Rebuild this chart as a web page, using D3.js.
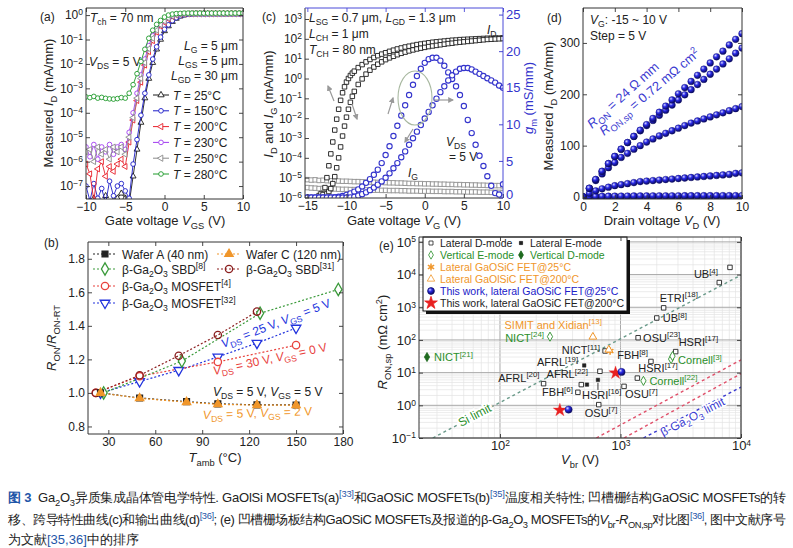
<!DOCTYPE html>
<html>
<head>
<meta charset="utf-8">
<script src="https://cdn.jsdelivr.net/npm/d3@7"></script>
<style>
body { margin: 0; background: #fff; }
svg { display: block; }
text { font-family: "Liberation Sans", Arial, sans-serif; }
</style>
</head>
<body>
<div id="fig"></div>
<script>
// ---------------- panel (a): transfer curves, log10 I_D (mA/mm) vs V_GS ----------------
var a_vgs = [-10,-9.5,-9,-8.5,-8,-7.5,-7,-6.5,-6,-5.5,-5,-4.5,-4,-3.5,-3,-2.5,-2,-1.5,-1,-0.5,0,0.5,1,1.5,2,2.5,3,3.5,4,4.5,5,5.5,6,6.5,7,7.5,8,8.5,9,9.5,10];
var a_T25  = [-7.6,-7.9,-7.5,-7.8,-7.7,-7.4,-7.9,-7.6,-7.5,-7.3,-7.5,-7.7,-6.6,-5.5,-4.4,-3.4,-2.6,-1.95,-1.4,-1.0,-0.65,-0.45,-0.27,-0.14,-0.05,0.0,0.03,0.04,0.05,0.05,0.05,0.05,0.05,0.05,0.05,0.05,0.05,0.05,0.05,0.05,0.05];
var a_T150 = [-7.0,-7.6,-6.9,-7.5,-7.1,-7.7,-6.8,-7.4,-7.0,-6.9,-7.2,-7.5,-6.1,-5.1,-4.1,-3.2,-2.45,-1.8,-1.3,-0.9,-0.58,-0.4,-0.23,-0.11,-0.03,0.01,0.03,0.04,0.05,0.05,0.05,0.05,0.05,0.05,0.05,0.05,0.05,0.05,0.05,0.05,0.05];
var a_T200 = [-6.1,-6.5,-7.6,-6.3,-6.0,-6.6,-6.2,-6.4,-6.1,-5.9,-6.2,-5.2,-4.3,-3.5,-2.75,-2.05,-1.5,-1.05,-0.7,-0.45,-0.3,-0.16,-0.06,0.0,0.03,0.04,0.05,0.05,0.05,0.05,0.05,0.05,0.05,0.05,0.05,0.05,0.05,0.05,0.05,0.05,0.05];
var a_T230 = [-5.4,-5.8,-5.3,-5.9,-5.4,-5.6,-5.3,-5.7,-5.4,-5.3,-5.5,-4.8,-4.0,-3.2,-2.45,-1.8,-1.25,-0.85,-0.55,-0.36,-0.22,-0.1,-0.02,0.02,0.04,0.05,0.05,0.05,0.05,0.05,0.05,0.05,0.05,0.05,0.05,0.05,0.05,0.05,0.05,0.05,0.05];
var a_T250 = [-5.6,-5.5,-6.0,-5.4,-5.7,-5.5,-5.9,-5.4,-5.6,-5.4,-5.7,-5.0,-4.2,-3.4,-2.6,-1.95,-1.38,-0.95,-0.62,-0.4,-0.25,-0.12,-0.04,0.01,0.03,0.04,0.05,0.05,0.05,0.05,0.05,0.05,0.05,0.05,0.05,0.05,0.05,0.05,0.05,0.05,0.05];
var a_T280 = [-3.35,-3.38,-3.33,-3.4,-3.37,-3.41,-3.43,-3.44,-3.42,-3.38,-3.4,-3.2,-2.85,-2.4,-1.9,-1.4,-0.95,-0.62,-0.38,-0.22,-0.08,0.0,0.04,0.06,0.07,0.08,0.08,0.08,0.08,0.08,0.08,0.08,0.08,0.08,0.08,0.08,0.08,0.08,0.08,0.08,0.08];
var a_temps = ['25', '150', '200', '230', '250', '280'];
var a_yticks = [1e-7, 1e-6, 1e-5, 1e-4, 1e-3, 1e-2, 1e-1, 1];
var a_xticks = [-10, -5, 0, 5, 10];

// ---------------- panel (c): I_D, I_G (log10 mA/mm) and g_m (mS/mm) vs V_G ----------------
var c_idUp_v = [-13.5,-13.25,-13,-12.75,-12.5,-12.25,-12,-11.75,-11.5,-11.25,-11,-10.75,-10.5,-10.25,-10,-9.75,-9.5,-9.25,-9,-8.5,-8,-7.5,-7,-6.5,-6,-5.5,-5,-4.5,-4,-3.5,-3,-2.5,-2,-1.5,-1,-0.5,0,0.5,1,1.5,2,2.5,3,3.5,4,4.5,5,5.5,6,6.5,7,7.5,8,8.5,9,9.5,10];
var c_idUp   = [-5.9,-5.8,-5.85,-5.5,-5.0,-4.4,-3.8,-3.2,-2.6,-2.05,-1.55,-1.1,-0.72,-0.42,-0.18,0.0,0.15,0.27,0.37,0.55,0.7,0.84,0.96,1.06,1.15,1.23,1.3,1.37,1.43,1.49,1.54,1.59,1.63,1.67,1.71,1.74,1.77,1.8,1.83,1.85,1.87,1.89,1.91,1.93,1.94,1.96,1.97,1.98,1.99,2.0,2.01,2.02,2.03,2.03,2.04,2.04,2.05];
var c_idDown_v = [-12.5,-12.25,-12,-11.75,-11.5,-11.25,-11,-10.75,-10.5,-10.25,-10,-9.75,-9.5,-9.25,-9,-8.5,-8,-7.5,-7,-6.5,-6,-5.5,-5,-4.5,-4,-3.5,-3,-2.5,-2,-1.5,-1,-0.5,0,0.5,1,1.5,2,2.5,3,3.5,4,4.5,5,5.5,6,6.5,7,7.5,8,8.5,9,9.5,10];
var c_idDown = [-5.8,-5.7,-5.55,-5.3,-4.95,-4.5,-4.0,-3.45,-2.9,-2.4,-1.95,-1.55,-1.2,-0.9,-0.65,-0.3,-0.02,0.22,0.42,0.58,0.72,0.84,0.95,1.04,1.12,1.2,1.27,1.33,1.39,1.44,1.49,1.53,1.57,1.61,1.64,1.67,1.7,1.73,1.76,1.78,1.81,1.83,1.85,1.87,1.89,1.91,1.93,1.95,1.97,1.98,1.99,2.0,2.01];
var c_vg = [-15,-14.5,-14,-13.5,-13,-12.5,-12,-11.5,-11,-10.5,-10,-9.5,-9,-8.5,-8,-7.5,-7,-6.5,-6,-5.5,-5,-4.5,-4,-3.5,-3,-2.5,-2,-1.5,-1,-0.5,0,0.5,1,1.5,2,2.5,3,3.5,4,4.5,5,5.5,6,6.5,7,7.5,8,8.5,9,9.5,10];
var c_igUp   = [-5.10,-5.12,-5.11,-5.14,-5.13,-5.15,-5.16,-5.15,-5.17,-5.18,-5.18,-5.19,-5.2,-5.2,-5.21,-5.22,-5.22,-5.23,-5.24,-5.24,-5.25,-5.26,-5.26,-5.27,-5.27,-5.28,-5.29,-5.29,-5.3,-5.3,-5.31,-5.31,-5.32,-5.32,-5.33,-5.33,-5.34,-5.34,-5.35,-5.35,-5.36,-5.36,-5.37,-5.37,-5.38,-5.38,-5.39,-5.39,-5.4,-5.4,-5.41];
var c_igDown = [-5.5,-5.52,-5.53,-5.55,-5.54,-5.56,-5.57,-5.57,-5.58,-5.59,-5.59,-5.6,-5.6,-5.61,-5.61,-5.62,-5.62,-5.63,-5.63,-5.64,-5.64,-5.65,-5.65,-5.65,-5.66,-5.66,-5.67,-5.67,-5.67,-5.68,-5.68,-5.68,-5.69,-5.69,-5.69,-5.7,-5.7,-5.7,-5.71,-5.71,-5.71,-5.72,-5.72,-5.72,-5.73,-5.73,-5.73,-5.74,-5.74,-5.74,-5.75];
var c_gmUp   = [0,0,0,0,0,0,0.02,0.05,0.1,0.2,0.35,0.55,0.8,1.1,1.5,2.0,2.5,3.1,3.8,4.7,5.8,7.0,8.4,9.8,11.2,12.6,14.0,15.4,16.6,17.6,18.4,18.9,19.1,19.1,18.7,18.0,17.1,16.2,15.2,14.0,12.5,10.6,8.8,7.2,5.7,4.3,2.9,1.6,0.6,0.4,1.8];
var c_gmDown = [0,0,0,0,0,0,0,0,0,0,0,0.02,0.1,0.25,0.45,0.7,1.0,1.35,1.75,2.2,2.7,3.3,4.0,4.7,5.5,6.3,7.2,8.1,9.0,9.9,10.8,11.7,12.6,13.5,14.4,15.2,16.0,16.7,17.2,17.6,17.7,17.7,17.5,17.2,16.9,16.6,16.3,16.0,15.7,15.3,15.0];
var c_yticks = [1e-6,1e-5,1e-4,1e-3,1e-2,1e-1,1,1e1,1e2,1e3];
var c_xticks = [-15, -10, -5, 0, 5, 10];
var c_gmticks = [0, 5, 10, 15, 20, 25];

// ---------------- panel (d): output curves I_D (mA/mm) vs V_D ----------------
var d_vd = [0,0.4,0.8,1.2,1.6,2.0,2.4,2.8,3.2,3.6,4.0,4.4,4.8,5.2,5.6,6.0,6.4,6.8,7.2,7.6,8.0,8.4,8.8,9.2,9.6,10];
var d_vg10  = [0,17,34,50,65,79,93,106,118,130,141,153,165,177,189,201,213,225,237,249,261,273,284,296,307,318];
var d_vg5   = [0,17,34,50,65,79,93,106,118,129,139,149,159,169,179,189,199,209,219,229,239,249,259,269,280,290];
var d_vg0   = [0,17,32,45,57,67,77,85,93,100,107,113,119,124,129,134,139,144,148,152,156,160,164,168,172,176];
var d_vgm5  = [0,7,12,16,19,22,24,26,28,30,31,32,33,34,35,36,37,38,39,40,41,42,43,44,46,47];
var d_vgm10 = [0,0.6,1.0,1.3,1.5,1.7,1.8,1.9,2.0,2.1,2.2,2.2,2.3,2.3,2.4,2.4,2.5,2.5,2.5,2.6,2.6,2.6,2.7,2.7,2.7,2.8];
var d_vgm15 = [0,0.1,0.1,0.1,0.2,0.2,0.2,0.2,0.2,0.2,0.2,0.3,0.3,0.3,0.3,0.3,0.3,0.3,0.3,0.3,0.3,0.3,0.3,0.3,0.3,0.3];
var d_xticks = [0, 2, 4, 6, 8, 10];
var d_yticks = [0, 100, 200, 300];

// ---------------- panel (b): R_ON / R_ON-RT vs T_amb ----------------
var b_waferA_t = [25, 50, 80, 100, 125, 150];
var b_waferA   = [1.0, 0.97, 0.948, 0.935, 0.929, 0.928];
var b_waferC_t = [25, 50, 80, 100, 125, 150];
var b_waferC   = [1.0, 0.968, 0.945, 0.932, 0.927, 0.927];
var b_sbd8_t   = [27, 77, 127, 177];
var b_sbd8     = [1.0, 1.19, 1.475, 1.617];
var b_sbd31_t  = [22, 50, 75, 100, 125];
var b_sbd31    = [1.0, 1.105, 1.222, 1.345, 1.485];
var b_mos4_t   = [22, 50, 100, 150];
var b_mos4     = [1.0, 1.1, 1.185, 1.285];
var b_mos32_t  = [25, 50, 75, 100, 125, 150];
var b_mos32    = [1.0, 1.068, 1.135, 1.215, 1.297, 1.387];
var b_xticks = [30, 60, 90, 120, 150, 180];
var b_yticks = [0.8, 1.0, 1.2, 1.4, 1.6, 1.8];

// ---------------- panel (e): R_ON,sp (mOhm cm2) vs V_br (V) ----------------
var e_latD_name = ['UB[4]', '', 'ETRI[18]', 'UB[8]', 'OSU[23]', 'HSRI[17]', 'FBH[8]', 'HSRI[17]', 'OSU[7]', 'OSU[7]', 'NICT[11]', 'AFRL[22]', 'AFRL[20]', 'FBH[6]', ''];
var e_latD_vbr  = [8100, 6600, 2280, 2000, 1400, 2870, 1790, 1380, 1070, 660, 745, 675, 230, 443, 473];
var e_latD_ron  = [16600, 5700, 960, 470, 117, 44, 22, 6.8, 3.8, 1.05, 46, 11, 4.6, 2.5, 4.3];
var e_latE_name = ['AFRL[19]', 'HSRI[16]', ''];
var e_latE_vbr  = [500, 650, 527];
var e_latE_ron  = [16.6, 6.0, 4.3];
var e_vertE_name = ['Cornell[3]', '', 'Cornell[22]', 'NICT[24]'];
var e_vertE_vbr  = [2630, 2700, 1550, 260];
var e_vertE_ron  = [26, 32, 5.6, 126];
var e_vertD_name = ['NICT[21]'];
var e_vertD_vbr  = [24.8];
var e_vertD_ron  = [30];
var e_sic25_vbr  = [820];
var e_sic25_ron  = [46];
var e_sic200_name = ['SIMIT and Xidian[13]', ''];
var e_sic200_vbr  = [590, 800];
var e_sic200_ron  = [124, 50];
var e_work25_vbr  = [1020, 371];
var e_work25_ron  = [10.5, 0.74];
var e_work200_vbr = [910, 314];
var e_work200_ron = [9.8, 0.71];
// limit lines: [V_br, R_on,sp] end points
var e_siLimit  = [[27.7, 0.1], [10000, 9660]];
var e_sicLim1  = [[630, 0.1], [10000, 24.6]];
var e_sicLim2  = [[1070, 0.1], [10000, 9.3]];
var e_gaLimit  = [[1550, 0.1], [10000, 3.6]];
var e_xticks = [100, 1000, 10000];
var e_yticks = [0.1, 1, 10, 100, 1000, 1e4, 1e5];

// label placement in (e): [dx, dy, anchor] in pixels from the point
var e_latD_lab  = [[-12,11,'end'], null, [-4,-6,'start'], [6,4,'start'], [5,4,'start'], [3,-6,'start'], [-3,-2,'end'], [1,-6,'start'], [1,12,'start'], [-14,12,'start'], [-5,3,'end'], [-12,7,'end'], [-4,-2,'end'], [-5,4,'end'], null];
var e_latE_lab  = [[-6,1,'end'], [-16,19,'start'], null];
var e_vertE_lab = [[7,5,'start'], null, [6,4,'start'], [-6,5,'end']];
var e_vertD_lab = [[7,4,'start']];
var e_sic200_lab = [[9,-8,'end'], null];

// ---------------- helpers ----------------
var INK = '#222', GREEN = '#2a8f2a', ORANGE = '#f0962a';
var svg = d3.select('#fig').append('svg').attr('width', 793).attr('height', 548);
svg.append('rect').attr('width', 793).attr('height', 548).attr('fill', '#fff');
var defs = svg.append('defs');

var ball = defs.append('radialGradient').attr('id', 'ball').attr('cx', '35%').attr('cy', '32%').attr('r', '70%');
ball.append('stop').attr('offset', '0%').attr('stop-color', '#d6d6ff');
ball.append('stop').attr('offset', '40%').attr('stop-color', '#2a2ae6');
ball.append('stop').attr('offset', '100%').attr('stop-color', '#07075a');

defs.append('marker').attr('id', 'ah').attr('viewBox', '0 0 10 10').attr('refX', 8).attr('refY', 5)
  .attr('markerWidth', 5).attr('markerHeight', 5).attr('orient', 'auto')
  .append('path').attr('d', 'M0,0L10,5L0,10z').attr('fill', '#9a9a9a');

function rich(g, x, y, parts, o) {
  o = o || {};
  var fs = o.size || 12;
  var t = g.append('text').attr('x', x).attr('y', y).attr('font-size', fs)
    .attr('fill', o.color || INK).attr('text-anchor', o.anchor || 'start')
    .style('white-space', 'pre');
  if (o.family) t.attr('font-family', o.family);
  if (o.rotate) t.attr('transform', 'rotate(' + o.rotate + ',' + x + ',' + y + ')');
  var shift = 0;
  parts.forEach(function(p) {
    if (typeof p === 'string') p = [p, ''];
    var st = p[1].split(' ');
    var s = t.append('tspan').text(p[0]);
    var tgt = 0;
    if (st.indexOf('sub') >= 0) tgt = fs * 0.28;
    if (st.indexOf('sup') >= 0) tgt = -fs * 0.4;
    if (tgt !== shift) s.attr('dy', tgt - shift);
    shift = tgt;
    if (tgt !== 0) s.attr('font-size', fs * 0.72);
    if (st.indexOf('i') >= 0) s.attr('font-style', 'italic');
    if (st.indexOf('b') >= 0) s.attr('font-weight', 'bold');
    if (p[2]) s.attr('fill', p[2]);
  });
  return t;
}

function supName(s) {
  var m = s.match(/^(.*?)(\[\d+\])$/);
  return m ? [m[1], [m[2], 'sup']] : [s];
}

var symTypes = {
  circle: d3.symbolCircle, square: d3.symbolSquare, triangle: d3.symbolTriangle,
  tri_left: d3.symbolTriangle, tri_down: d3.symbolTriangle, diamond: d3.symbolDiamond,
  star: d3.symbolStar, asterisk: d3.symbolAsterisk || d3.symbolCross
};
function symRot(type) { return type === 'tri_left' ? -90 : (type === 'tri_down' ? 180 : 0); }

function marks(g, pts, type, area, stroke, fill, sw) {
  g.append('g').selectAll('path').data(pts).join('path')
    .attr('d', d3.symbol().type(symTypes[type]).size(area)())
    .attr('transform', function(d) { return 'translate(' + d[0] + ',' + d[1] + ') rotate(' + symRot(type) + ')'; })
    .attr('fill', fill || 'none').attr('stroke', stroke).attr('stroke-width', sw == null ? 0.9 : sw);
}

function styleAxis(sel, col) {
  sel.attr('font-family', null).attr('font-size', null);
  sel.select('.domain').remove();
  sel.selectAll('.tick line').attr('stroke', col || '#333').attr('stroke-width', 0.9);
  sel.selectAll('.tick text').attr('font-size', 12).attr('fill', col || INK);
}

function powTicks(sel) {
  sel.selectAll('.tick text').each(function(d) {
    var e = Math.round(Math.log10(d)), t = d3.select(this);
    t.text(null);
    t.append('tspan').text('10');
    t.append('tspan').attr('dy', '-0.5em').attr('font-size', 8.5).text(e < 0 ? '\u2212' + (-e) : String(e));
  });
}

function axes(g, xs, ys, o) {
  var xr = xs.range(), yr = ys.range(), tl = 4;
  var gb = g.append('g').attr('transform', 'translate(0,' + yr[0] + ')')
    .call(d3.axisBottom(xs).tickValues(o.xt).tickSize(-tl).tickPadding(3).tickFormat(o.xf || d3.format('d')));
  styleAxis(gb);
  var gt = g.append('g').attr('transform', 'translate(0,' + yr[1] + ')')
    .call(d3.axisTop(xs).tickValues(o.xt).tickSize(-tl).tickFormat(''));
  styleAxis(gt, o.topCol);
  var gl = g.append('g').attr('transform', 'translate(' + xr[0] + ',0)')
    .call(d3.axisLeft(ys).tickValues(o.yt).tickSize(-tl).tickPadding(3).tickFormat(o.yf || d3.format('d')));
  styleAxis(gl);
  if (!o.noRight) {
    var gr = g.append('g').attr('transform', 'translate(' + xr[1] + ',0)')
      .call(d3.axisRight(ys).tickValues(o.yt).tickSize(-tl).tickFormat(''));
    styleAxis(gr);
  }
  if (o.xlog) powTicks(gb);
  if (o.ylog) powTicks(gl);
  var c = o.topCol || '#333';
  g.append('line').attr('x1', xr[0]).attr('x2', xr[1]).attr('y1', yr[0]).attr('y2', yr[0]).attr('stroke', '#333');
  g.append('line').attr('x1', xr[0]).attr('x2', xr[0]).attr('y1', yr[0]).attr('y2', yr[1]).attr('stroke', '#333');
  g.append('line').attr('x1', xr[0]).attr('x2', xr[1]).attr('y1', yr[1]).attr('y2', yr[1]).attr('stroke', c);
  g.append('line').attr('x1', xr[1]).attr('x2', xr[1]).attr('y1', yr[0]).attr('y2', yr[1]).attr('stroke', c);
}

function clipFor(id, xs, ys) {
  var xr = xs.range(), yr = ys.range();
  defs.append('clipPath').attr('id', id).append('rect')
    .attr('x', xr[0]).attr('y', yr[1]).attr('width', xr[1] - xr[0]).attr('height', yr[0] - yr[1]);
  return 'url(#' + id + ')';
}

function zipPts(xv, yv, xs, ys, conv) {
  var out = [];
  for (var i = 0; i < Math.min(xv.length, yv.length); i++) {
    if (yv[i] == null) continue;
    out.push([xs(xv[i]), ys(conv ? conv(yv[i]) : yv[i])]);
  }
  return out;
}
function pow10(v) { return Math.pow(10, v); }

// ================= panel (a) =================
var xA = d3.scaleLinear().domain([-10, 10]).range([86, 243]);
var yA = d3.scaleLog().domain([Math.pow(10, -7.53), Math.pow(10, 0.29)]).range([199, 8]);
var gA = svg.append('g');
var aSeries = [
  [a_T25, '#1a1a1a', 'triangle'], [a_T150, '#1c1cc8', 'circle'], [a_T200, '#e8202a', 'tri_left'],
  [a_T230, '#a23cf0', 'circle'], [a_T250, '#8a8a8a', 'tri_left'], [a_T280, '#1e9a2a', 'circle']
];
rich(gA, 89, 66, [['V', 'i'], ['DS', 'sub'], ' = 5 V'], { size: 12 });
var clipA = gA.append('g').attr('clip-path', clipFor('clipA', xA, yA));
aSeries.forEach(function(s) {
  var pts = zipPts(a_vgs, s[0], xA, yA, pow10);
  clipA.append('path').attr('d', d3.line()(pts)).attr('fill', 'none').attr('stroke', s[1]).attr('stroke-width', 0.9);
  marks(clipA, pts, s[2], s[2] === 'circle' ? 17 : 15, s[1], '#fff', 0.9);
});
axes(gA, xA, yA, { xt: a_xticks, yt: a_yticks, ylog: true, xf: d3.format('d') });
rich(gA, 40, 21, ['(a)'], { size: 12 });
rich(gA, 90, 22, [['T', 'i'], ['ch', 'sub'], ' = 70 nm'], { size: 12 });
rich(gA, 238, 50, [['L', 'i'], ['G', 'sub'], ' = 5 \u03bcm'], { size: 12, anchor: 'end' });
rich(gA, 238, 65, [['L', 'i'], ['GS', 'sub'], ' = 5 \u03bcm'], { size: 12, anchor: 'end' });
rich(gA, 238, 80, [['L', 'i'], ['GD', 'sub'], ' = 30 \u03bcm'], { size: 12, anchor: 'end' });
aSeries.forEach(function(s, i) {
  var yy = 95 + i * 15.8;
  gA.append('line').attr('x1', 153).attr('x2', 169).attr('y1', yy).attr('y2', yy).attr('stroke', s[1]).attr('stroke-width', 1);
  marks(gA, [[161, yy]], s[2], 17, s[1], '#fff', 0.9);
  rich(gA, 173, yy + 4.5, [['T', 'i'], ' = ' + a_temps[i] + '\u00b0C'], { size: 12 });
});
rich(gA, 53, 103, ['Measured ', ['I', 'i'], ['D', 'sub'], ' (mA/mm)'], { size: 13, anchor: 'middle', rotate: -90 });
rich(gA, 165, 225, ['Gate voltage ', ['V', 'i'], ['GS', 'sub'], ' (V)'], { size: 13, anchor: 'middle' });

// ================= panel (c) =================
var xC = d3.scaleLinear().domain([-15.3, 10]).range([305, 503]);
var yC = d3.scaleLog().domain([Math.pow(10, -6.025), Math.pow(10, 3.555)]).range([198, 8]);
var gmC = d3.scaleLinear().domain([-0.07, 25.9]).range([198, 8]);
var gC = svg.append('g');
var clipC = gC.append('g').attr('clip-path', clipFor('clipC', xC, yC));
[c_igUp, c_igDown].forEach(function(s) {
  marks(clipC, zipPts(c_vg, s, xC, yC, pow10), 'square', 20, '#8c8c8c', '#fff', 0.9);
});
marks(clipC, zipPts(c_idUp_v, c_idUp, xC, yC, pow10), 'square', 20, '#1a1a1a', '#fff', 0.9);
marks(clipC, zipPts(c_idDown_v, c_idDown, xC, yC, pow10), 'square', 20, '#1a1a1a', '#fff', 0.9);
[c_gmUp, c_gmDown].forEach(function(s) {
  marks(clipC, zipPts(c_vg, s, xC, gmC), 'circle', 22, '#3434cc', '#fff', 1.1);
});
axes(gC, xC, yC, { xt: c_xticks, yt: c_yticks, ylog: true, noRight: true, topCol: '#4a4ad8' });
var gR = gC.append('g').attr('transform', 'translate(503,0)')
  .call(d3.axisRight(gmC).tickValues(c_gmticks).tickSize(-4).tickPadding(3).tickFormat(d3.format('d')));
styleAxis(gR, '#3434cc');
gR.selectAll('.tick text').attr('font-size', 13);
gR.selectAll('.tick text').filter(function(d) { return d === 0; }).attr('dy', '0.1em');
// hysteresis arrows and guide ellipse
[[334, 101, 328, 86], [352, 104, 357, 119], [388, 114, 393, 98], [413, 129, 405, 142], [434, 100, 453, 100]].forEach(function(a) {
  gC.append('line').attr('x1', a[0]).attr('y1', a[1]).attr('x2', a[2]).attr('y2', a[3])
    .attr('stroke', '#9a9a9a').attr('stroke-width', 1.2).attr('marker-end', 'url(#ah)');
});
gC.append('ellipse').attr('cx', 415).attr('cy', 98).attr('rx', 17).attr('ry', 27)
  .attr('fill', 'none').attr('stroke', '#a8b8a0').attr('stroke-width', 1.1);
rich(gC, 262, 21, ['(c)'], { size: 12 });
rich(gC, 309, 22, [['L', 'i'], ['SG', 'sub'], ' = 0.7 \u03bcm, ', ['L', 'i'], ['GD', 'sub'], ' = 1.3 \u03bcm'], { size: 12 });
rich(gC, 309, 38, [['L', 'i'], ['CH', 'sub'], ' = 1 \u03bcm'], { size: 12 });
rich(gC, 309, 54, [['T', 'i'], ['CH', 'sub'], ' = 80 nm'], { size: 12 });
rich(gC, 487, 34, [['I', 'i'], ['D', 'sub']], { size: 12 });
rich(gC, 408, 177, [['I', 'i'], ['G', 'sub']], { size: 12 });
rich(gC, 446, 146, [['V', 'i'], ['DS', 'sub']], { size: 12 });
rich(gC, 449, 161, ['= 5 V'], { size: 12 });
rich(gC, 273, 104, [['I', 'i'], ['D', 'sub'], ' and ', ['I', 'i'], ['G', 'sub'], ' (mA/mm)'], { size: 13, anchor: 'middle', rotate: -90 });
rich(gC, 533, 98, [['g', 'i'], ['m', 'sub'], ' (mS/mm)'], { size: 13, anchor: 'middle', rotate: -90, color: '#3434cc' });
rich(gC, 404, 225, ['Gate voltage ', ['V', 'i'], ['G', 'sub'], ' (V)'], { size: 13, anchor: 'middle' });

// ================= panel (d) =================
var xD = d3.scaleLinear().domain([0, 10]).range([583, 742]);
var yD = d3.scaleLinear().domain([-3.9, 368]).range([199, 8]);
var gD = svg.append('g');
var clipD = gD.append('g').attr('clip-path', clipFor('clipD', xD, yD));
[d_vgm15, d_vgm10, d_vgm5, d_vg0, d_vg5, d_vg10].forEach(function(s) {
  marks(clipD, zipPts(d_vd, s, xD, yD), 'circle', 36, '#14146a', 'url(#ball)', 0.4);
});
axes(gD, xD, yD, { xt: d_xticks, yt: d_yticks });
rich(gD, 547, 22, ['(d)'], { size: 12 });
rich(gD, 590, 24, [['V', 'i'], ['G', 'sub'], ': -15 ~ 10 V'], { size: 12 });
rich(gD, 590, 40, ['Step = 5 V'], { size: 12 });
rich(gD, 592, 129, [['R', 'i'], ['ON', 'sub'], ' = 24 \u03a9 mm'], { size: 13, color: '#3a3ad0', rotate: -42 });
rich(gD, 604, 136, [['R', 'i'], ['ON,sp', 'sub'], ' = 0.72 m\u03a9 cm', ['2', 'sup']], { size: 13, color: '#3a3ad0', rotate: -40 });
rich(gD, 553, 106, ['Measured ', ['I', 'i'], ['D', 'sub'], ' (mA/mm)'], { size: 13, anchor: 'middle', rotate: -90 });
rich(gD, 662, 225, ['Drain voltage ', ['V', 'i'], ['D', 'sub'], ' (V)'], { size: 13, anchor: 'middle' });

// ================= panel (b) =================
var xB = d3.scaleLinear().domain([17, 180]).range([88, 343]);
var yB = d3.scaleLinear().domain([0.755, 1.9]).range([434, 242]);
var gB = svg.append('g');
var bSeries = [
  [b_mos32_t, b_mos32, '#2233dd', 'tri_down', 40, '#fff'],
  [b_mos4_t, b_mos4, '#e8413c', 'circle', 42, '#fff'],
  [b_sbd8_t, b_sbd8, '#3a9a3a', 'diamond', 44, '#fff'],
  [b_sbd31_t, b_sbd31, '#8b1f1f', 'circle', 42, 'none'],
  [b_waferA_t, b_waferA, '#222', 'square', 34, '#222'],
  [b_waferC_t, b_waferC, ORANGE, 'triangle', 30, ORANGE]
];
bSeries.forEach(function(s) {
  var pts = zipPts(s[0], s[1], xB, yB);
  gB.append('path').attr('d', d3.line()(pts)).attr('fill', 'none').attr('stroke', s[2])
    .attr('stroke-width', 1.2).attr('stroke-dasharray', '2,2');
});
bSeries.forEach(function(s) {
  marks(gB, zipPts(s[0], s[1], xB, yB), s[3], s[4], s[2], s[5], 1.3);
});
axes(gB, xB, yB, { xt: b_xticks, yt: b_yticks, yf: d3.format('.1f') });
var bLeg = [
  [bSeries[4], 93, 254, ['Wafer A (40 nm)']],
  [bSeries[5], 217, 254, ['Wafer C (120 nm)']],
  [bSeries[2], 93, 269, ['\u03b2-Ga', ['2', 'sub'], 'O', ['3', 'sub'], ' SBD', ['[8]', 'sup']]],
  [bSeries[3], 217, 269, ['\u03b2-Ga', ['2', 'sub'], 'O', ['3', 'sub'], ' SBD', ['[31]', 'sup']]],
  [bSeries[1], 93, 286, ['\u03b2-Ga', ['2', 'sub'], 'O', ['3', 'sub'], ' MOSFET', ['[4]', 'sup']]],
  [bSeries[0], 93, 303, ['\u03b2-Ga', ['2', 'sub'], 'O', ['3', 'sub'], ' MOSFET', ['[32]', 'sup']]]
];
bLeg.forEach(function(l) {
  var s = l[0];
  gB.append('line').attr('x1', l[1]).attr('x2', l[1] + 24).attr('y1', l[2]).attr('y2', l[2])
    .attr('stroke', s[2]).attr('stroke-width', 1.2).attr('stroke-dasharray', '2,2');
  marks(gB, [[l[1] + 12, l[2]]], s[3], s[4], s[2], s[5], 1.3);
  rich(gB, l[1] + 29, l[2] + 4.5, l[3], { size: 12 });
});
rich(gB, 223, 348, [['V', 'i'], ['DS', 'sub'], ' = 25 V, ', ['V', 'i'], ['GS', 'sub'], ' = 5 V'], { size: 12, color: '#2233dd', rotate: -21 });
rich(gB, 214, 375, [['V', 'i'], ['DS', 'sub'], ' = 30 V, ', ['V', 'i'], ['GS', 'sub'], ' = 0 V'], { size: 12, color: '#e8413c', rotate: -12 });
rich(gB, 213, 396, [['V', 'i'], ['DS', 'sub'], ' = 5 V, ', ['V', 'i'], ['GS', 'sub'], ' = 5 V'], { size: 12, color: INK });
rich(gB, 203, 419, [['V', 'i'], ['DS', 'sub'], ' = 5 V, ', ['V', 'i'], ['GS', 'sub'], ' = 2 V'], { size: 12, color: ORANGE, rotate: -2 });
rich(gB, 44, 247, ['(b)'], { size: 12 });
rich(gB, 56, 338, [['R', 'i'], ['ON', 'sub'], '/', ['R', 'i'], ['ON-RT', 'sub']], { size: 13, anchor: 'middle', rotate: -90 });
rich(gB, 215, 462, [['T', 'i'], ['amb', 'sub'], ' (\u00b0C)'], { size: 13, anchor: 'middle' });

// ================= panel (e) =================
var xE = d3.scaleLog().domain([Math.pow(10, 1.328), 1e4]).range([419, 741]);
var yE = d3.scaleLog().domain([0.1, Math.pow(10, 5.15)]).range([438, 237]);
var gE = svg.append('g');
var gridE = gE.append('g');
xE.ticks().forEach(function(v) {
  var major = Math.abs(Math.log10(v) - Math.round(Math.log10(v))) < 1e-9;
  gridE.append('line').attr('x1', xE(v)).attr('x2', xE(v)).attr('y1', 237).attr('y2', 438)
    .attr('stroke', major ? '#a8a8a8' : '#e4e4e4').attr('stroke-width', major ? 1 : 0.7);
});
yE.ticks().forEach(function(v) {
  var major = Math.abs(Math.log10(v) - Math.round(Math.log10(v))) < 1e-9;
  gridE.append('line').attr('x1', 419).attr('x2', 741).attr('y1', yE(v)).attr('y2', yE(v))
    .attr('stroke', major ? '#a8a8a8' : '#e4e4e4').attr('stroke-width', major ? 1 : 0.7);
});
var clipE = gE.append('g').attr('clip-path', clipFor('clipE', xE, yE));
function limLine(l, col) {
  clipE.append('line').attr('x1', xE(l[0][0])).attr('y1', yE(l[0][1])).attr('x2', xE(l[1][0])).attr('y2', yE(l[1][1]))
    .attr('stroke', col).attr('stroke-width', 1.4).attr('stroke-dasharray', '3,3');
}
limLine(e_siLimit, '#6a9a8a');
limLine(e_sicLim1, '#e0506a');
limLine(e_sicLim2, '#e0506a');
limLine(e_gaLimit, '#3a3ad0');
function lineAngle(l) {
  return Math.atan2(yE(l[1][1]) - yE(l[0][1]), xE(l[1][0]) - xE(l[0][0])) * 180 / Math.PI;
}
function onLine(l, v) {
  var k = (Math.log10(v) - Math.log10(l[0][0])) / (Math.log10(l[1][0]) - Math.log10(l[0][0]));
  return Math.pow(10, Math.log10(l[0][1]) + k * (Math.log10(l[1][1]) - Math.log10(l[0][1])));
}
var siV = 64, gaV = 4100;
rich(clipE, xE(siV), yE(onLine(e_siLimit, siV)) + 4, ['Si limit'], { size: 12, color: GREEN, anchor: 'middle', rotate: lineAngle(e_siLimit) })
  .attr('stroke', '#fff').attr('stroke-width', 4).attr('paint-order', 'stroke');
rich(clipE, xE(gaV), yE(onLine(e_gaLimit, gaV)) + 9, ['\u03b2-Ga', ['2', 'sub'], 'O', ['3', 'sub'], ' limit'], { size: 12, color: '#3a3ad0', anchor: 'middle', rotate: lineAngle(e_gaLimit) })
  .attr('stroke', '#fff').attr('stroke-width', 3).attr('paint-order', 'stroke');

function ePoints(vbr, ron, type, area, stroke, fill, sw) {
  marks(clipE, zipPts(vbr, ron, xE, yE), type, area, stroke, fill, sw);
}
function eLabels(names, vbr, ron, lab, col) {
  names.forEach(function(n, i) {
    if (!n || !lab[i]) return;
    rich(gE, xE(vbr[i]) + lab[i][0], yE(ron[i]) + lab[i][1], supName(n), { size: 11, color: col, anchor: lab[i][2] });
  });
}
ePoints(e_latD_vbr, e_latD_ron, 'square', 20, '#222', '#fff', 0.9);
ePoints(e_latE_vbr, e_latE_ron, 'square', 12, '#222', '#222', 0.5);
ePoints(e_vertE_vbr, e_vertE_ron, 'diamond', 24, GREEN, '#fff', 0.9);
ePoints(e_vertD_vbr, e_vertD_ron, 'diamond', 24, '#1e6a1e', '#1e6a1e', 0.8);
ePoints(e_sic25_vbr, e_sic25_ron, 'asterisk', 40, ORANGE, 'none', 1.6);
ePoints(e_sic200_vbr, e_sic200_ron, 'triangle', 26, ORANGE, '#fff', 1.0);
ePoints(e_work200_vbr, e_work200_ron, 'star', 55, '#e82020', '#e82020', 0.3);
ePoints(e_work25_vbr, e_work25_ron, 'circle', 42, '#10106a', 'url(#ball)', 0.4);
eLabels(e_latD_name, e_latD_vbr, e_latD_ron, e_latD_lab, INK);
eLabels(e_latE_name, e_latE_vbr, e_latE_ron, e_latE_lab, INK);
eLabels(e_vertE_name, e_vertE_vbr, e_vertE_ron, e_vertE_lab, GREEN);
eLabels(e_vertD_name, e_vertD_vbr, e_vertD_ron, e_vertD_lab, GREEN);
eLabels(e_sic200_name, e_sic200_vbr, e_sic200_ron, e_sic200_lab, ORANGE);
gE.append('line').attr('x1', xE(e_latE_vbr[1])).attr('x2', xE(e_latE_vbr[1]))
  .attr('y1', yE(e_latE_ron[1]) + 3).attr('y2', yE(e_latE_ron[1]) + 10).attr('stroke', '#222').attr('stroke-width', 0.9);

// legend (e)
var lg = gE.append('g');
lg.append('rect').attr('x', 426).attr('y', 240).attr('width', 204).attr('height', 74).attr('fill', '#111');
lg.append('rect').attr('x', 423).attr('y', 237).attr('width', 204).attr('height', 74).attr('fill', '#fff').attr('stroke', '#111').attr('stroke-width', 1);
var eLeg = [
  [431, 243, 'square', 16, '#222', '#fff', 'Lateral D-mode', INK],
  [521, 243, 'square', 10, '#222', '#222', 'Lateral E-mode', INK],
  [431, 255, 'diamond', 20, GREEN, '#fff', 'Vertical E-mode', GREEN],
  [521, 255, 'diamond', 20, '#1e6a1e', '#1e6a1e', 'Vertical D-mode', GREEN],
  [431, 267, 'asterisk', 36, ORANGE, 'none', 'Lateral GaOSiC FET@25\u00b0C', ORANGE],
  [431, 279, 'triangle', 24, ORANGE, '#fff', 'Lateral GaOlSiC FET@200\u00b0C', ORANGE],
  [431, 291, 'circle', 36, '#10106a', 'url(#ball)', 'This work, lateral GaOSiC FET@25\u00b0C', '#2020c8'],
  [431, 303, 'star', 50, '#e82020', '#e82020', 'This work, lateral GaOSiC FET@200\u00b0C', INK]
];
eLeg.forEach(function(l) {
  marks(lg, [[l[0], l[1]]], l[2], l[3], l[4], l[5], l[2] === 'asterisk' ? 1.5 : 0.8);
  rich(lg, l[0] + 9, l[1] + 4, [l[6]], { size: 10.5, color: l[7] });
});
axes(gE, xE, yE, { xt: e_xticks, yt: e_yticks, xlog: true, ylog: true });
gE.selectAll('.tick text').attr('font-size', 13);
rich(gE, 379, 250, ['(e)'], { size: 12 });
rich(gE, 387, 342, [['R', 'i'], ['ON,sp', 'sub'], ' (m\u03a9 cm', ['2', 'sup'], ')'], { size: 13, anchor: 'middle', rotate: -90 });
rich(gE, 580, 464, [['V', 'i'], ['br', 'sub'], ' (V)'], { size: 13, anchor: 'middle' });

// ================= caption =================
var CAP = '"Liberation Serif", "Noto Sans CJK SC", serif', CB = '#1f56a8';
var capG = svg.append('g');
rich(capG, 8, 502, [['\u56fe 3', 'b', CB], '  Ga', ['2', 'sub'], 'O', ['3', 'sub'], '\u5f02\u8d28\u96c6\u6210\u6676\u4f53\u7ba1\u7535\u5b66\u7279\u6027. GaOlSi MOSFETs(a)', ['[33]', 'sup', CB], '\u548cGaOSiC MOSFETs(b)', ['[35]', 'sup', CB], '\u6e29\u5ea6\u76f8\u5173\u7279\u6027; \u51f9\u69fd\u6805\u7ed3\u6784GaOSiC MOSFETs\u7684\u8f6c'], { size: 13, family: CAP })
  .attr('textLength', 778).attr('lengthAdjust', 'spacing');
rich(capG, 8, 524, ['\u79fb\u3001\u8de8\u5bfc\u7279\u6027\u66f2\u7ebf(c)\u548c\u8f93\u51fa\u66f2\u7ebf(d)', ['[36]', 'sup', CB], '; (e) \u51f9\u69fd\u6805\u573a\u677f\u7ed3\u6784GaOSiC MOSFETs\u53ca\u62a5\u9053\u7684\u03b2-Ga', ['2', 'sub'], 'O', ['3', 'sub'], ' MOSFETs\u7684', ['V', 'i'], ['br', 'sub'], '-', ['R', 'i'], ['ON,sp', 'sub'], '\u5bf9\u6bd4\u56fe', ['[36]', 'sup', CB], ', \u56fe\u4e2d\u6587\u732e\u5e8f\u53f7'], { size: 13, family: CAP })
  .attr('textLength', 778).attr('lengthAdjust', 'spacing');
rich(capG, 8, 544, ['\u4e3a\u6587\u732e', ['[35,36]', '', CB], '\u4e2d\u7684\u6392\u5e8f'], { size: 13, family: CAP });
rich(capG, 8, 559, [['Figure 3', 'b', CB], '   Electrical characteristics of Ga', ['2', 'sub'], 'O', ['3', 'sub'], ' heterogeneous integrated transistors. Temperature-dependent characteristics of GaOISi MOSFETs (a)', ['[33]', 'sup', CB], ' and GaOSiC'], { size: 13, family: CAP });
</script>
</body>
</html>
